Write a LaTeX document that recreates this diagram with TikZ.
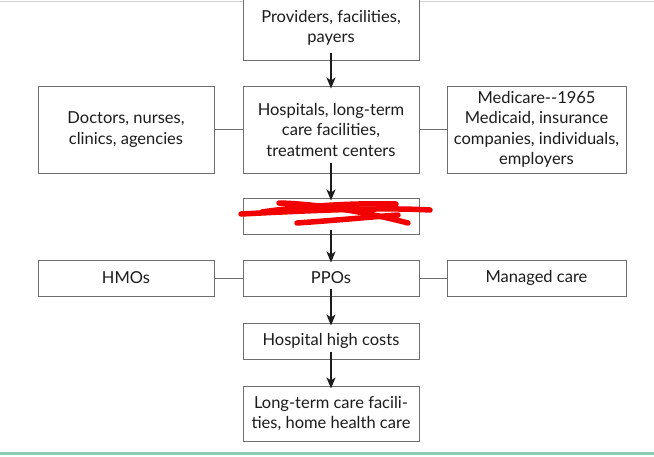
\documentclass[tikz,border=0pt]{standalone}
\usepackage{fontspec}
\setmainfont{Lato}
\usetikzlibrary{arrows.meta,positioning}
\definecolor{boxGray}{HTML}{6E6E6E}
\definecolor{flowInk}{HTML}{1C1C1C}
\definecolor{pageGreen}{HTML}{8FCBB4}
\definecolor{pageRule}{HTML}{D0D0D0}
\definecolor{scribbleRed}{HTML}{F20000}

\begin{document}
\begin{tikzpicture}[
  x=1pt, y=1pt,
  font=\fontsize{16.5}{20.5}\selectfont,
  box/.style={draw=boxGray, line width=1pt, minimum width=176pt, minimum height=36pt, align=center, inner sep=1pt, fill=white, text=flowInk},
  tallbox/.style={box, minimum height=87pt},
  midbox/.style={box, minimum height=55pt},
  flow/.style={-{Stealth[length=11pt, width=9pt, inset=3pt]}, line width=1.2pt, draw=flowInk},
  link/.style={line width=1pt, draw=boxGray},
  scribble/.style={draw=scribbleRed, line width=5.5pt, line cap=round, line join=round}
]
  \useasboundingbox (0,0) rectangle (654,-456);
  \draw[pageRule, line width=0.8pt] (0,-1) -- (654,-1);
  \draw[pageGreen, line width=3pt] (0,-453.5) -- (654,-453.5);

  \node[box, minimum height=64pt] (providers) at (331,-28) {Providers, facilities,\\payers};
  \node[tallbox, below=25pt of providers] (hospitals) {Hospitals, long-term\\care facilities,\\treatment centers};
  \node[tallbox, left=28pt of hospitals] (doctors) {Doctors, nurses,\\clinics, agencies};
  \node[tallbox, right=27pt of hospitals, minimum width=179pt] (payers) {Medicare-{}-1965\\Medicaid, insurance\\companies, individuals,\\employers};
  \node[box, below=24pt of hospitals] (hidden) {};
  \node[box, below=25pt of hidden] (ppos) {PPOs};
  \node[box, left=28pt of ppos] (hmos) {HMOs};
  \node[box, right=27pt of ppos, minimum width=179pt] (managed) {Managed care};
  \node[box, below=26pt of ppos] (highcost) {Hospital high costs};
  \node[midbox, below=26pt of highcost] (homecare) {Long-term care facili-\\ties, home health care};

  \draw[link] (doctors) -- (hospitals);
  \draw[link] (hospitals) -- (payers);
  \draw[link] (hmos) -- (ppos);
  \draw[link] (ppos) -- (managed);

  \draw[flow] ([yshift=8pt]providers.south) -- ([yshift=-3pt]hospitals.north);
  \draw[flow] ([yshift=11pt]hospitals.south) -- ([yshift=-3pt]hidden.north);
  \draw[flow] ([yshift=5pt]hidden.south) -- ([yshift=-3pt]ppos.north);
  \draw[flow] ([yshift=8pt]ppos.south) -- ([yshift=-3pt]highcost.north);
  \draw[flow] ([yshift=8pt]highcost.south) -- ([yshift=-3pt]homecare.north);

  % red strike over the hidden label
  \draw[scribble] (241,-214) .. controls (300,-211) and (380,-207) .. (430,-210);
  \draw[scribble] (279,-203) .. controls (320,-204) and (370,-213) .. (408,-223);
  \draw[scribble] (262,-212) .. controls (310,-205) and (360,-203) .. (396,-204);
  \draw[scribble] (297,-223) .. controls (340,-220) and (370,-217) .. (398,-215);
\end{tikzpicture}
\end{document}
